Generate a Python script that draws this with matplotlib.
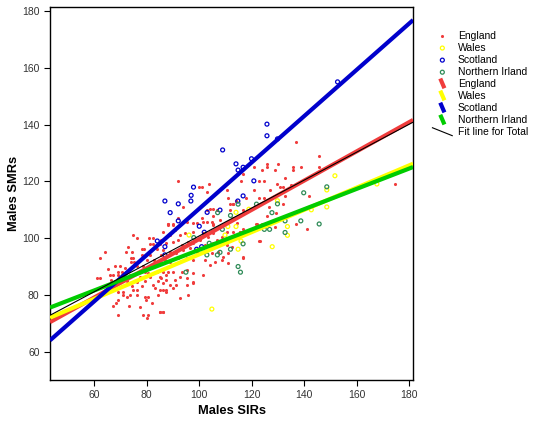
import numpy as np
import matplotlib
matplotlib.use("Agg")
import matplotlib.pyplot as plt
from matplotlib.lines import Line2D
from matplotlib.legend_handler import HandlerBase

plt.rcParams['font.family'] = ['Liberation Sans', 'DejaVu Sans']

# England (SIR, SMR)
eng_x = [87.9, 74.6, 76.1, 80.9, 82.2, 81.2, 82.5, 85.0, 72.9, 64.0, 72.0, 74.2, 78.0, 78.9, 83.7,
         62.1, 73.9, 74.8, 78.3, 81.2, 85.6, 73.8, 75.1, 79.9, 82.7, 85.0, 67.9, 69.8, 76.4, 78.6,
         71.7, 65.3, 69.1, 70.4, 79.3, 80.5, 83.7, 65.9, 67.2, 69.1, 70.4, 73.6, 77.4, 81.2, 85.0,
         87.5, 60.9, 62.1, 66.2, 67.9, 69.1, 72.3, 76.1, 79.3, 84.4, 65.3, 70.4, 74.2, 78.0, 82.5,
         86.3, 67.2, 69.1, 71.0, 74.8, 76.1, 83.1, 85.0, 87.5, 71.0, 73.6, 76.1, 72.3, 79.3, 80.5,
         79.7, 84.4, 69.1, 68.2, 67.2, 73.3, 77.4, 81.8, 85.0, 86.3, 69.1, 78.6, 80.5, 79.9,
         88.2, 90.1, 95.2, 97.7, 101.5, 104.7, 105.3, 86.3, 88.8, 90.7, 92.6, 94.5, 97.7, 101.5,
         103.4, 105.3, 108.5, 110.4, 112.3, 113.6, 115.5, 121.8, 123.1, 85.6, 87.5, 90.1, 92.0,
         93.3, 95.8, 97.7, 100.2, 102.1, 105.3, 106.6, 110.4, 112.3, 86.3, 88.8, 91.3, 93.9, 96.4,
         99.0, 101.5, 104.7, 107.2, 109.1, 111.0, 116.7, 86.9, 88.8, 92.0, 95.2, 97.7, 102.1, 106.0,
         108.5, 111.0, 104.0, 86.3, 88.2, 90.1, 93.3, 95.2, 97.7, 101.5, 85.6, 87.5, 90.7, 92.6,
         95.2, 97.7, 88.8, 91.3, 95.2, 97.7, 86.3, 87.5, 90.1, 92.6, 95.8, 85.0, 86.3,
         136.8, 145.7, 125.7, 129.9, 125.7, 120.8, 123.8, 128.8, 135.8, 135.8, 138.7, 145.7, 116.8,
         115.8, 122.9, 124.8, 132.8, 129.7, 130.7, 131.8, 134.9, 120.8, 126.9, 132.7, 141.8, 122.9,
         124.8, 174.6, 111.7, 113.0, 114.0, 117.8, 132.0, 126.7, 111.7, 116.8, 125.7, 129.1, 113.0,
         114.2, 121.9, 123.8, 128.8, 116.8, 136.7, 140.9, 115.5, 113.0, 122.9, 116.8,
         92.0, 103.8, 100.0, 100.9, 102.8, 93.9, 110.4, 111.1, 113.0, 114.0, 104.1, 105.1, 102.8,
         106.9, 100.9, 105.1, 92.0, 107.9, 99.0, 102.8, 87.9, 90.1, 105.3]
eng_y = [105.0, 101.1, 99.9, 99.9, 99.9, 97.9, 97.9, 97.9, 97.0, 95.0, 95.0, 95.0, 96.1, 96.1, 96.1,
         93.1, 93.1, 93.1, 94.1, 94.1, 94.1, 91.7, 91.7, 92.3, 92.3, 92.1, 90.2, 90.2, 90.2, 90.2,
         89.4, 89.0, 88.2, 88.2, 88.2, 87.6, 88.2, 87.0, 87.0, 87.0, 87.0, 87.0, 86.4, 86.4, 86.4,
         87.0, 86.1, 86.1, 85.2, 85.0, 85.0, 85.0, 84.7, 85.0, 85.0, 83.5, 83.1, 83.1, 83.1, 83.5,
         84.1, 81.7, 81.1, 81.1, 81.7, 81.7, 82.3, 81.7, 81.7, 80.0, 80.0, 80.0, 79.1, 79.4, 79.1,
         78.2, 80.0, 78.2, 77.0, 76.1, 76.1, 75.6, 77.0, 74.1, 74.1, 72.9, 72.9, 72.9, 71.7,
         104.6, 104.6, 105.8, 105.2, 105.8, 105.8, 104.6, 102.3, 101.1, 102.9, 101.1, 101.7, 102.3, 101.7,
         100.5, 101.7, 100.5, 102.3, 99.9, 101.1, 102.3, 105.0, 99.1, 99.3, 98.2, 98.8, 99.3,
         97.6, 98.8, 98.2, 99.3, 97.6, 98.2, 99.3, 97.6, 97.0, 95.8, 95.2, 94.6, 95.8, 96.4,
         95.2, 96.4, 94.6, 95.2, 93.5, 94.6, 93.2, 92.3, 91.7, 92.9, 92.9, 92.3, 92.3, 91.7,
         92.3, 91.1, 90.5, 88.2, 88.2, 88.2, 88.2, 88.8, 87.6, 87.0, 85.8, 85.2, 85.2, 86.4,
         85.8, 84.7, 83.5, 83.5, 83.5, 84.1, 81.7, 81.1, 82.3, 78.8, 80.0, 74.1, 74.1,
         134.0, 129.1, 126.2, 126.2, 125.2, 125.0, 124.0, 124.0, 125.0, 124.0, 125.0, 125.0, 122.5,
         120.3, 120.2, 120.2, 121.1, 119.1, 117.9, 117.9, 118.8, 117.0, 117.0, 115.0, 115.0, 114.1,
         114.1, 119.1, 112.1, 112.1, 113.2, 114.1, 112.1, 111.1, 110.0, 110.0, 107.8, 109.0, 107.0,
         105.2, 105.0, 105.0, 104.1, 103.2, 105.0, 103.1, 102.3, 102.1, 99.0, 93.1,
         120.2, 119.1, 117.9, 117.9, 116.2, 111.1, 117.0, 114.1, 112.1, 113.2, 110.2, 110.2, 110.0,
         110.0, 107.2, 107.8, 107.2, 106.4, 105.2, 105.8, 105.0, 105.0, 105.0]

wal_x = [151.7, 148.6, 148.6, 167.7, 142.7, 133.6, 133.6, 127.8, 129.8, 118.9, 114.0, 114.0,
         109.8, 115.9, 114.8, 110.9, 96.1, 104.8]
wal_y = [122.0, 117.0, 111.0, 119.1, 110.0, 104.1, 101.0, 97.0, 113.2, 110.2, 109.1, 104.1,
         101.1, 99.0, 96.1, 104.1, 101.1, 75.0]

sco_x = [125.8, 125.8, 129.8, 108.9, 114.0, 114.8, 116.7, 119.9, 120.8, 97.8, 86.9, 96.9, 96.8,
         92.0, 88.9, 107.9, 114.7, 116.7, 103.0, 100.0, 101.9, 84.0, 86.9, 100.9, 99.0, 86.9,
         92.0, 152.7]
sco_y = [140.2, 136.1, 135.0, 131.1, 126.2, 124.0, 125.0, 128.0, 120.2, 118.0, 113.1, 115.1, 113.1,
         112.1, 109.0, 109.9, 113.1, 114.9, 109.1, 104.2, 102.1, 99.0, 97.0, 97.0, 96.1, 94.1,
         106.1, 155.1]

ni_x = [148.6, 139.8, 129.8, 145.7, 138.7, 132.7, 132.7, 127.7, 124.8, 126.8, 121.8, 116.7,
        111.9, 111.9, 114.8, 97.9, 107.0, 108.8, 103.8, 102.9, 107.9, 106.9, 114.8, 115.7, 94.9]
ni_y = [118.1, 116.0, 112.1, 105.0, 106.1, 106.1, 102.0, 109.0, 103.1, 103.1, 112.0, 98.0,
        96.1, 108.0, 112.0, 100.2, 109.0, 103.1, 98.2, 94.1, 95.0, 94.1, 90.0, 88.0, 88.0]

# fit lines: intercept, slope
fit_eng = (48.2, 0.515)
fit_wal = (55.1, 0.392)
fit_sco = (28.8, 0.816)
fit_ni = (60.1, 0.358)
fit_tot = (51.6, 0.492)

xlim = (43.1, 181.5)
ylim = (50, 181.5)

c_red = '#f03c3c'
c_yel = '#ffff00'
c_blu = '#0000cc'
c_grn_pt = '#2e8b57'
c_grn_ln = '#00cc00'


class DiagHandler(HandlerBase):
    def __init__(self, color, lw, dx, dy):
        super().__init__()
        self.color = color
        self.lw = lw
        self.dx = dx
        self.dy = dy

    def create_artists(self, legend, orig_handle, xdescent, ydescent, width, height,
                       fontsize, trans):
        cx = width / 2 - xdescent
        cy = height / 2 - ydescent
        ln = Line2D([cx - self.dx, cx + self.dx], [cy + self.dy, cy - self.dy],
                    color=self.color, lw=self.lw, solid_capstyle='butt')
        ln.set_transform(trans)
        return [ln]


fig = plt.figure(figsize=(5.34, 4.21), dpi=100)
ax = fig.add_axes([0.0936, 0.0974, 0.68, 0.886])

h_eng = ax.scatter(eng_x, eng_y, s=5, color=c_red, marker='o', linewidths=0, zorder=2)
h_wal = ax.scatter(wal_x, wal_y, s=8, facecolors='none', edgecolors=c_yel, linewidths=0.9, zorder=2)
h_sco = ax.scatter(sco_x, sco_y, s=8, facecolors='none', edgecolors=c_blu, linewidths=0.9, zorder=2)
h_ni = ax.scatter(ni_x, ni_y, s=8, facecolors='none', edgecolors=c_grn_pt, linewidths=0.9, zorder=2)

xs = np.array(xlim)
lines = []
for (b, m), col, lw in [(fit_eng, c_red, 3.0), (fit_wal, c_yel, 3.0), (fit_sco, c_blu, 3.0),
                        (fit_ni, c_grn_ln, 3.0), (fit_tot, 'black', 0.8)]:
    l, = ax.plot(xs, b + m * xs, color=col, lw=lw, solid_capstyle='butt', zorder=3)
    lines.append(l)

ax.set_xlim(*xlim)
ax.set_ylim(*ylim)
ax.set_xticks(range(60, 181, 20))
ax.set_yticks(range(60, 181, 20))
ax.tick_params(direction='out', length=4, width=0.8, labelsize=7.5, labelcolor='#333333',
               top=False, right=False)
for sp in ax.spines.values():
    sp.set_linewidth(1.0)
ax.set_xlabel('Males SIRs', fontsize=9.3, fontweight='bold', labelpad=3)
ax.set_ylabel('Males SMRs', fontsize=9.3, fontweight='bold', labelpad=1.5)

handles = [h_eng, h_wal, h_sco, h_ni] + lines
labels = ['England', 'Wales', 'Scotland', 'Northern Irland', 'England', 'Wales', 'Scotland',
          'Northern Irland', 'Fit line for Total']
hmap = {lines[0]: DiagHandler(c_red, 3.0, 1.5, 3.5),
        lines[1]: DiagHandler(c_yel, 3.0, 1.5, 3.5),
        lines[2]: DiagHandler(c_blu, 3.0, 1.5, 3.5),
        lines[3]: DiagHandler(c_grn_ln, 3.0, 1.5, 3.5),
        lines[4]: DiagHandler('black', 0.8, 7.5, 3.0)}
fig.legend(handles, labels, handler_map=hmap, loc='upper left', bbox_to_anchor=(0.803, 0.937),
           frameon=False, fontsize=7.5, labelspacing=0.2, handlelength=1.8, handletextpad=0.6,
           borderaxespad=0, scatterpoints=1)

fig.savefig('out.png', dpi=100)
